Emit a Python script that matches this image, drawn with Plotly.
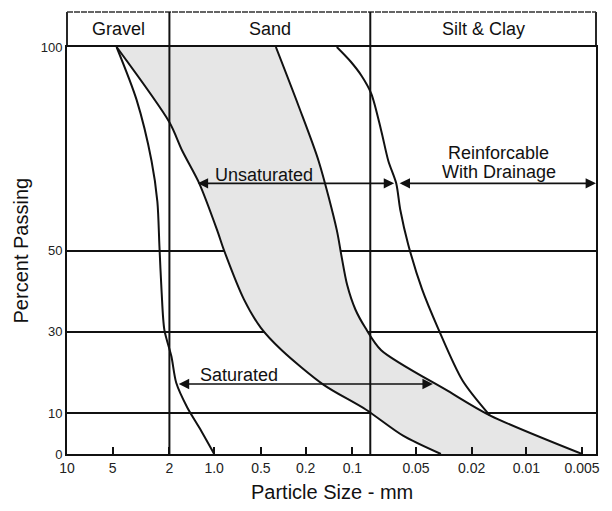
import numpy as np
import plotly.graph_objects as go

# Grain-size chart: percent passing vs particle size (mm), schematic size scale
TICK_SIZES = [10, 5, 2, 1, 0.5, 0.2, 0.1, 0.05, 0.02, 0.01, 0.005]
TICK_TEXT = ["10", "5", "2", "1.0", "0.5", "0.2", "0.1", "0.05", "0.02", "0.01", "0.005"]
Y_TICKS = [0, 10, 30, 50, 100]

# Soil class boundaries (mm)
GRAVEL_SAND = 2.0
SAND_FINES = 0.075

# Gradation curves
A_SIZE = [4.7, 3.4, 2.67, 2.43, 2.35, 2.27, 2.17, 1.94, 1.80, 1.52, 1.26, 1.0]
A_PCT = [100, 87, 72, 62, 51, 40, 30.5, 24, 17.5, 11.5, 6.5, 0]

B_SIZE = [4.7, 2.0, 1.64, 1.26, 0.957, 0.863, 0.643, 0.5, 0.326, 0.153, 0.0812, 0.0561, 0.0332]
B_PCT = [100, 81.5, 74.5, 66.5, 55, 50, 38, 31, 25.5, 17, 11, 4.5, 0]

C_SIZE = [0.368, 0.231, 0.165, 0.126, 0.118, 0.108, 0.0953, 0.0812, 0.0681, 0.0296, 0.0159, 0.005]
C_PCT = [100, 85.5, 72, 55, 49, 41.5, 35.5, 31, 25.5, 15.5, 9.5, 0]

D_SIZE = [0.126, 0.103, 0.0866, 0.0743, 0.0681, 0.0639, 0.0596, 0.0575, 0.0536, 0.0453, 0.0349, 0.0232, 0.0159]
D_PCT = [100, 96.5, 93, 88.5, 79.5, 72, 66.5, 60, 51.5, 40.5, 31, 18, 9.5]

# Ranges marked by arrows (size from, size to, percent)
UNSAT_RANGE = (1.32, 0.0607, 66.5)
DRAIN_FROM = (0.0586, 66.5)
SAT_RANGE = (1.77, 0.0379, 17.2)

# The printed size scale is a hand-drawn, non-uniform log scale:
# anchor sizes and their relative positions along the axis.
SCALE_SIZES = [10, 5, 2, 1, 0.5, 0.2, 0.1, 0.075, 0.05, 0.02, 0.01, 0.005]
SCALE_POS = [0, 0.0865, 0.1936, 0.2782, 0.3665, 0.4511, 0.5395, 0.5733,
             0.6598, 0.765, 0.8684, 0.9737]


def pos(size):
    s = -np.log10(np.asarray(size, dtype=float))
    return np.interp(s, -np.log10(SCALE_SIZES), SCALE_POS)


FONT = "Liberation Sans, Arial, sans-serif"
INK = "#111111"

fig = go.Figure()

# Shaded band between curves B and C
fx = np.concatenate([pos(B_SIZE), pos(C_SIZE)[::-1]])
fy = np.concatenate([B_PCT, C_PCT[::-1]])
fig.add_trace(go.Scatter(x=fx, y=fy, fill="toself", fillcolor="#e6e6e6",
                         line=dict(width=0), mode="lines", hoverinfo="skip",
                         showlegend=False))

for sz, pc in [(A_SIZE, A_PCT), (B_SIZE, B_PCT), (C_SIZE, C_PCT), (D_SIZE, D_PCT)]:
    fig.add_trace(go.Scatter(x=pos(sz), y=pc, mode="lines",
                             line=dict(color=INK, width=2, shape="spline", smoothing=0.8),
                             showlegend=False))

HEAD_TOP = 1.086
shapes = [
    # header band: sides and bottom solid, top edge a lighter broken rule
    dict(type="line", xref="paper", yref="paper", x0=0, x1=0, y0=1, y1=HEAD_TOP,
         line=dict(color=INK, width=1.8)),
    dict(type="line", xref="paper", yref="paper", x0=1, x1=1, y0=1, y1=HEAD_TOP,
         line=dict(color=INK, width=1.8)),
    dict(type="line", xref="paper", yref="paper", x0=0, x1=1, y0=HEAD_TOP, y1=HEAD_TOP,
         line=dict(color="#333333", width=1.6, dash="6px,1px")),
]
for b in (GRAVEL_SAND, SAND_FINES):
    xb = float(pos(b))
    shapes.append(dict(type="line", xref="x", yref="paper", x0=xb, x1=xb, y0=0, y1=HEAD_TOP,
                       line=dict(color=INK, width=2)))

annotations = []
head_font = dict(family=FONT, size=18, color=INK)
# Header band labels
bands = [("Gravel", 10, GRAVEL_SAND), ("Sand", GRAVEL_SAND, SAND_FINES)]
for name, lo, hi in bands:
    annotations.append(dict(text=name, x=(float(pos(lo)) + float(pos(hi))) / 2, xref="x",
                            y=1.043, yref="paper", xanchor="center", yanchor="middle",
                            showarrow=False, font=head_font))
annotations.append(dict(text="Silt & Clay", x=(float(pos(SAND_FINES)) + 1.0) / 2, xref="x",
                        y=1.043, yref="paper", xanchor="center", yanchor="middle",
                        showarrow=False, font=head_font))


def double_arrow(x0, x1, y):
    return dict(x=x1, y=y, ax=x0, ay=y, xref="x", yref="y", axref="x", ayref="y",
                text="", showarrow=True, arrowside="end+start", arrowhead=2,
                startarrowhead=2, arrowsize=1.3, startarrowsize=1.3,
                arrowwidth=1.6, arrowcolor=INK, standoff=0, startstandoff=0)


annotations.append(double_arrow(float(pos(UNSAT_RANGE[0])), float(pos(UNSAT_RANGE[1])), UNSAT_RANGE[2]))
annotations.append(double_arrow(float(pos(DRAIN_FROM[0])), 1.0, DRAIN_FROM[1]))
annotations.append(double_arrow(float(pos(SAT_RANGE[0])), float(pos(SAT_RANGE[1])), SAT_RANGE[2]))

label_font = dict(family=FONT, size=18, color=INK)
title_font = dict(family=FONT, size=20, color=INK)
annotations += [
    dict(text="Unsaturated", x=float(pos(0.47)), y=68.6, xref="x", yref="y",
         xanchor="center", yanchor="middle", showarrow=False, font=label_font),
    dict(text="Saturated", x=float(pos(0.69)), y=19.3, xref="x", yref="y",
         xanchor="center", yanchor="middle", showarrow=False, font=label_font),
    dict(text="Reinforcable", x=float(pos(0.0142)), y=73.9, xref="x", yref="y",
         xanchor="center", yanchor="middle", showarrow=False, font=label_font),
    dict(text="With Drainage", x=float(pos(0.0142)), y=69.4, xref="x", yref="y",
         xanchor="center", yanchor="middle", showarrow=False, font=label_font),
    # Axis titles
    dict(text="Particle Size - mm", x=0.50, y=-0.093, xref="paper", yref="paper",
         xanchor="center", yanchor="middle", showarrow=False, font=title_font),
    dict(text="Percent Passing", x=-0.087, y=0.50, xref="paper", yref="paper",
         xanchor="center", yanchor="middle", textangle=-90, showarrow=False,
         font=title_font),
]

fig.update_layout(
    width=612, height=511,
    margin=dict(l=67, r=13, t=47, b=57),
    paper_bgcolor="white", plot_bgcolor="white",
    shapes=shapes, annotations=annotations,
    xaxis=dict(range=[0, 1], tickvals=pos(TICK_SIZES), ticktext=TICK_TEXT,
               ticks="inside", ticklen=7, tickwidth=1.5, tickcolor=INK,
               showgrid=False, zeroline=False, showline=True, linecolor=INK,
               linewidth=2, mirror=True,
               tickfont=dict(family=FONT, size=14, color="#222222")),
    yaxis=dict(range=[0, 100], tickvals=Y_TICKS, ticks="",
               showgrid=True, gridcolor=INK, gridwidth=1.6, zeroline=False,
               showline=True, linecolor=INK, linewidth=2, mirror=True,
               tickfont=dict(family=FONT, size=13, color="#222222")),
)

fig.write_html("out.html")
